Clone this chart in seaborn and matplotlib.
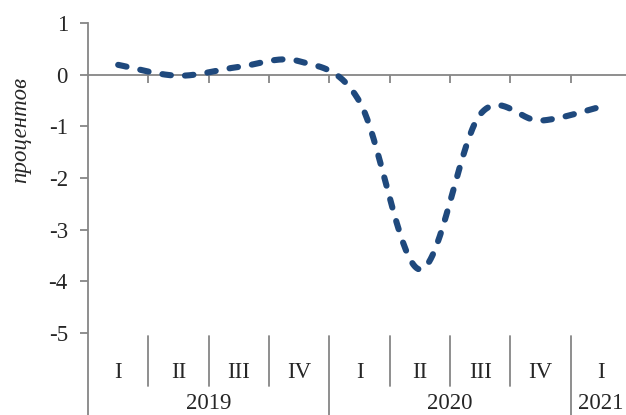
import numpy as np
import pandas as pd
import matplotlib
matplotlib.use("Agg")
import matplotlib.pyplot as plt
import seaborn as sns

# ---- data ----
quarters = ["I", "II", "III", "IV", "I", "II", "III", "IV", "I"]
years = ["2019", "2020", "2021"]
year_sizes = [4, 4, 1]
values = [0.19, -0.02, 0.15, 0.26, -0.52, -3.77, -0.77, -0.89, -0.62]
yticks = [1, 0, -1, -2, -3, -4, -5]
ylabel = "процентов"

sns.set_style("white")
plt.rcParams["font.family"] = ["Liberation Serif", "DejaVu Serif"]
FS = 16.5

W, H = 626, 415
fig = plt.figure(figsize=(W / 100, H / 100), dpi=100)

# axes geometry in pixels
left_px, right_px, top_px = 88, 631, 23
px_per_unit = (333 - 23) / 6.0
ymin = 1 - (H - top_px) / px_per_unit
ax = fig.add_axes([left_px / W, 0, (right_px - left_px) / W, 1 - top_px / H])

n = len(values)
xs = np.arange(n, dtype=float)
ys = np.array(values, dtype=float)

# smoothed line (Catmull-Rom / Excel-like Bezier through the points)
P = np.column_stack([xs, ys])
Pext = np.vstack([P[0], P, P[-1]])
curve = []
t = np.linspace(0, 1, 40)
for i in range(n - 1):
    p0, p1, p2, p3 = Pext[i], Pext[i + 1], Pext[i + 2], Pext[i + 3]
    c1 = p1 + (p2 - p0) / 6.0
    c2 = p2 - (p3 - p1) / 6.0
    seg = ((1 - t) ** 3)[:, None] * p1 + (3 * (1 - t) ** 2 * t)[:, None] * c1 \
        + (3 * (1 - t) * t ** 2)[:, None] * c2 + (t ** 3)[:, None] * p2
    curve.append(seg if i == 0 else seg[1:])
curve = np.vstack(curve)
df = pd.DataFrame({"x": curve[:, 0], "y": curve[:, 1]})

gray = "#868686"
ax.axhline(0, color=gray, lw=1.3, zorder=1)
tick_len = 8 / px_per_unit
ax.vlines(np.arange(0.5, n - 0.5 + 1), 0, -tick_len, color=gray, lw=1.3, zorder=1)

sns.lineplot(data=df, x="x", y="y", sort=False, ax=ax, color="#1F497D",
             lw=4.4, zorder=3)
line = ax.lines[-1]
line.set_dashes((1.4, 2.3))
line.set_dash_capstyle("round")

ax.set_xlim(-0.5, n - 0.5)
ax.set_ylim(ymin, 1)
ax.set_yticks(yticks)
ax.set_yticklabels([str(v) for v in yticks], fontsize=FS)
ax.set_xticks([])
ax.set_xlabel("")
ax.set_ylabel("")
ax.tick_params(axis="y", direction="out", length=6, width=1.3, color=gray, pad=8.5, left=True)

for s in ["top", "right", "bottom"]:
    ax.spines[s].set_visible(False)
ax.spines["left"].set_color(gray)
ax.spines["left"].set_linewidth(1.3)

# category axis at the bottom
y_div_top = 1 - (336 - top_px) / px_per_unit
y_q_bot = 1 - (386 - top_px) / px_per_unit
y_q_text = 1 - (372 - top_px) / px_per_unit
y_y_text = 1 - (403 - top_px) / px_per_unit

for i, q in enumerate(quarters):
    ax.text(i, y_q_text, q, ha="center", va="center", fontsize=FS)

start = 0
for yr, sz in zip(years, year_sizes):
    for k in range(1, sz):
        ax.plot([start + k - 0.5] * 2, [y_div_top, y_q_bot], color=gray, lw=1.3)
    end = start + sz
    ax.plot([end - 0.5] * 2, [y_div_top, ymin], color=gray, lw=1.3, clip_on=False)
    ax.text(start + (sz - 1) / 2, y_y_text, yr, ha="center", va="center", fontsize=FS)
    start = end

fig.text(21 / W, 1 - 130 / H, ylabel, rotation=90, style="italic",
         ha="center", va="center", fontsize=FS)

fig.savefig("out.png", dpi=100)
